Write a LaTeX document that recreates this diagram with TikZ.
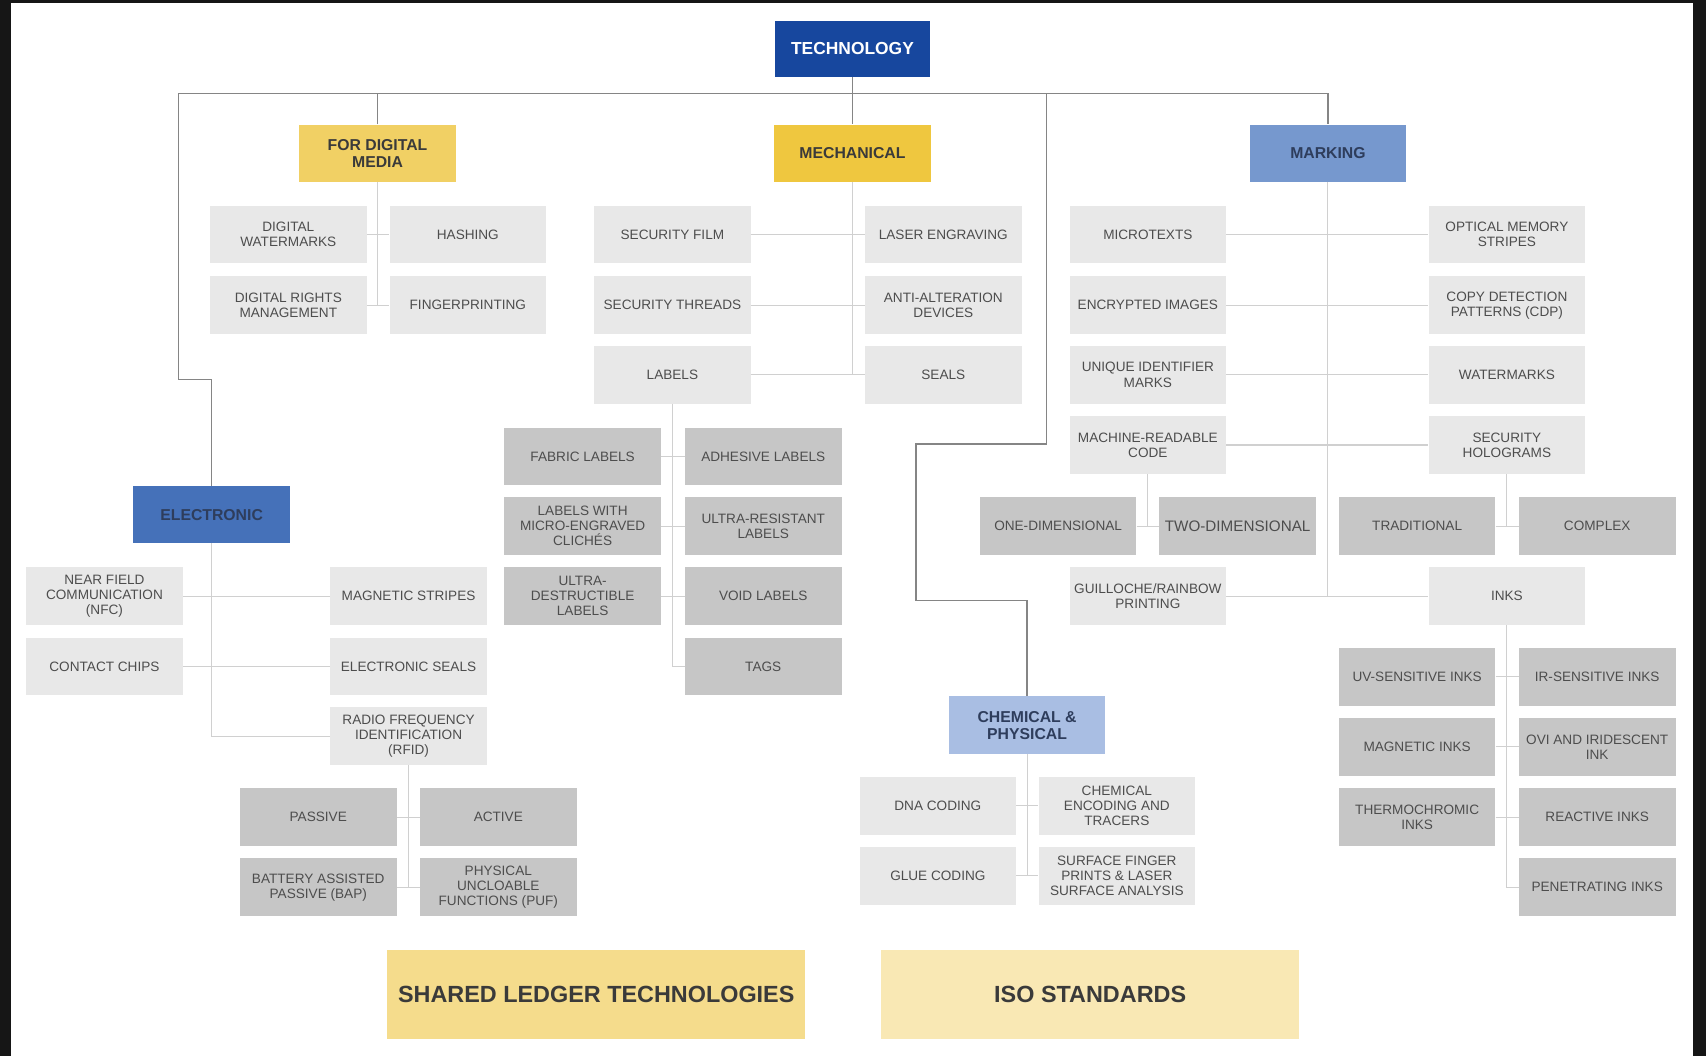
\documentclass[tikz,border=0pt]{standalone}
\usepackage{fontspec}
\setmainfont{Liberation Sans}
\definecolor{cFrame}{HTML}{161616}
\definecolor{cTech}{HTML}{17479E}
\definecolor{cYel}{HTML}{F1D064}
\definecolor{cYelB}{HTML}{EFC73F}
\definecolor{cMark}{HTML}{7698CE}
\definecolor{cElec}{HTML}{4571B9}
\definecolor{cChem}{HTML}{A9BEE3}
\definecolor{cLight}{HTML}{E8E8E8}
\definecolor{cDark}{HTML}{C6C6C6}
\definecolor{cShared}{HTML}{F5DC8C}
\definecolor{cIso}{HTML}{F9E8B4}
\definecolor{cTxt}{HTML}{4D4D4D}
\definecolor{cHead}{HTML}{3A3A3A}
\definecolor{cBlueTxt}{HTML}{2E3D5C}
\definecolor{cMainLine}{HTML}{858585}
\definecolor{cSubLine}{HTML}{D0D0D0}
\tikzset{
  gbox/.style={rectangle, inner sep=0pt, align=center, minimum width=144pt, minimum height=53pt,
    text=cTxt, font=\fontsize{12.5}{13.8}\selectfont},
  lbox/.style={gbox, fill=cLight},
  dbox/.style={gbox, fill=cDark},
  hbox/.style={gbox, text=cHead, font=\bfseries\fontsize{14.5}{15.5}\selectfont},
  bigbox/.style={rectangle, inner sep=0pt, minimum width=384pt, minimum height=82pt,
    text=cHead, font=\bfseries\fontsize{21.5}{23}\selectfont},
  mline/.style={draw=cMainLine, line width=1.4pt},
  sline/.style={draw=cSubLine, line width=1pt},
}
\begin{document}
\begin{tikzpicture}[x=1pt,y=-1pt]
\useasboundingbox (0,0) rectangle (1568,971);
\fill[cFrame] (0,0) rectangle (1568,971);
\fill[white] (10.5,3) rectangle (1556,971);

% category nodes
\node[hbox, fill=cTech, text=white, minimum width=143pt, minimum height=52pt,
      font=\bfseries\fontsize{16}{17}\selectfont] (tech) at (783.5,45) {TECHNOLOGY};
\node[hbox, fill=cYel] (dig) at (347,141) {FOR DIGITAL\\MEDIA};
\node[hbox, fill=cYelB] (mech) at (783.5,141) {MECHANICAL};
\node[hbox, fill=cMark, text=cBlueTxt] (mark) at (1220.5,141) {MARKING};
\node[hbox, fill=cElec, text=cBlueTxt, minimum height=52pt] (elec) at (194.5,473) {ELECTRONIC};
\node[hbox, fill=cChem, text=cBlueTxt] (chem) at (944,666.5) {CHEMICAL \&\\PHYSICAL};

% digital media
\node[lbox] (dw) at (265,215.5) {DIGITAL\\WATERMARKS};
\node[lbox] (hash) at (430,215.5) {HASHING};
\node[lbox] (drm) at (265,280.5) {DIGITAL RIGHTS\\MANAGEMENT};
\node[lbox] (fp) at (430,280.5) {FINGERPRINTING};

% mechanical
\node[lbox] (sf) at (618,215.5) {SECURITY FILM};
\node[lbox] (le) at (867,215.5) {LASER ENGRAVING};
\node[lbox] (st) at (618,280.5) {SECURITY THREADS};
\node[lbox] (aa) at (867,280.5) {ANTI-ALTERATION\\DEVICES};
\node[lbox] (lab) at (618,344.5) {LABELS};
\node[lbox] (seals) at (867,344.5) {SEALS};

% labels
\node[dbox] (fab) at (535.5,419.5) {FABRIC LABELS};
\node[dbox] (adh) at (701.5,419.5) {ADHESIVE LABELS};
\node[dbox] (mic) at (535.5,483.5) {LABELS WITH\\MICRO-ENGRAVED\\CLICHÉS};
\node[dbox] (ures) at (701.5,483.5) {ULTRA-RESISTANT\\LABELS};
\node[dbox] (udes) at (535.5,548) {ULTRA-\\DESTRUCTIBLE\\LABELS};
\node[dbox] (void) at (701.5,548) {VOID LABELS};
\node[dbox] (tags) at (701.5,612.5) {TAGS};

% marking
\node[lbox] (micro) at (1055,215.5) {MICROTEXTS};
\node[lbox] (oms) at (1385,215.5) {OPTICAL MEMORY\\STRIPES};
\node[lbox] (enc) at (1055,280.5) {ENCRYPTED IMAGES};
\node[lbox] (cdp) at (1385,280.5) {COPY DETECTION\\PATTERNS (CDP)};
\node[lbox] (uim) at (1055,344.5) {UNIQUE IDENTIFIER\\MARKS};
\node[lbox] (wm) at (1385,344.5) {WATERMARKS};
\node[lbox] (mrc) at (1055,409) {MACHINE-READABLE\\CODE};
\node[lbox] (holo) at (1385,409) {SECURITY\\HOLOGRAMS};
\node[lbox] (guil) at (1055,548) {GUILLOCHE/RAINBOW\\PRINTING};
\node[lbox] (inks) at (1385,548) {INKS};

\node[dbox] (one) at (972.5,483.5) {ONE-DIMENSIONAL};
\node[dbox, font=\fontsize{14}{15}\selectfont] (two) at (1137.5,483.5) {TWO-DIMENSIONAL};
\node[dbox] (trad) at (1302.5,483.5) {TRADITIONAL};
\node[dbox] (cplx) at (1468,483.5) {COMPLEX};

\node[dbox] (uv) at (1302.5,622) {UV-SENSITIVE INKS};
\node[dbox] (ir) at (1468,622) {IR-SENSITIVE INKS};
\node[dbox] (magi) at (1302.5,686.5) {MAGNETIC INKS};
\node[dbox] (ovi) at (1468,686.5) {OVI AND IRIDESCENT\\INK};
\node[dbox] (thermo) at (1302.5,751) {THERMOCHROMIC\\INKS};
\node[dbox] (react) at (1468,751) {REACTIVE INKS};
\node[dbox] (pen) at (1468,815.5) {PENETRATING INKS};

% electronic
\node[lbox] (nfc) at (96,548) {NEAR FIELD\\COMMUNICATION\\(NFC)};
\node[lbox] (ms) at (375.5,548) {MAGNETIC STRIPES};
\node[lbox] (cc) at (96,612.5) {CONTACT CHIPS};
\node[lbox] (es) at (375.5,612.5) {ELECTRONIC SEALS};
\node[lbox] (rfid) at (375.5,676.5) {RADIO FREQUENCY\\IDENTIFICATION\\(RFID)};

\node[dbox] (pas) at (292.5,751) {PASSIVE};
\node[dbox] (act) at (458,751) {ACTIVE};
\node[dbox] (bap) at (292.5,815.5) {BATTERY ASSISTED\\PASSIVE (BAP)};
\node[dbox] (puf) at (458,815.5) {PHYSICAL\\UNCLOABLE\\FUNCTIONS (PUF)};

% chemical
\node[lbox] (dna) at (862,740.5) {DNA CODING};
\node[lbox] (cet) at (1026.5,740.5) {CHEMICAL\\ENCODING AND\\TRACERS};
\node[lbox] (glue) at (862,805) {GLUE CODING};
\node[lbox] (surf) at (1026.5,805) {SURFACE FINGER\\PRINTS \& LASER\\SURFACE ANALYSIS};

% bottom
\node[bigbox, fill=cShared] (shared) at (548,914) {SHARED LEDGER TECHNOLOGIES};
\node[bigbox, fill=cIso] (iso) at (1002,914) {ISO STANDARDS};

% main tree
\coordinate (eA) at (164,86);
\coordinate (eB) at (164,349);
\coordinate (cA) at (962,86);
\coordinate (cB) at (962,408);
\coordinate (cC) at (842,408);
\coordinate (cD) at (842,552);
\draw[mline] (eB) -- (eA) -- (mark.north |- eA) -- (mark.north);
\draw[mline] (eB) -| (elec.north);
\draw[mline] (dig.north) -- (dig.north |- eA);
\draw[mline] (tech.south) -- (mech.north);
\draw[mline] (cA) -- (cB) -- (cC) -- (cD) -| (chem.north);

% digital
\draw[sline] (dig.south) -- (dig.south |- fp.west);
\draw[sline] (dw.east) -- (hash.west);
\draw[sline] (drm.east) -- (fp.west);
% mechanical
\draw[sline] (mech.south) -- (mech.south |- seals.west);
\draw[sline] (sf.east) -- (le.west);
\draw[sline] (st.east) -- (aa.west);
\draw[sline] (lab.east) -- (seals.west);
% labels
\draw[sline] (lab.south) -- (lab.south |- tags.west) -- (tags.west);
\draw[sline] (fab.east) -- (adh.west);
\draw[sline] (mic.east) -- (ures.west);
\draw[sline] (udes.east) -- (void.west);
% marking
\draw[sline] (mark.south) -- (mark.south |- inks.west);
\draw[sline] (micro.east) -- (oms.west);
\draw[sline] (enc.east) -- (cdp.west);
\draw[sline] (uim.east) -- (wm.west);
\draw[sline] (mrc.east) -- (holo.west);
\draw[sline] (guil.east) -- (inks.west);
\draw[sline] (mrc.south) -- (mrc.south |- one.east);
\draw[sline] (one.east) -- (two.west);
\draw[sline] (holo.south) -- (holo.south |- trad.east);
\draw[sline] (trad.east) -- (cplx.west);
\draw[sline] (inks.south) -- (inks.south |- pen.west) -- (pen.west);
\draw[sline] (uv.east) -- (ir.west);
\draw[sline] (magi.east) -- (ovi.west);
\draw[sline] (thermo.east) -- (react.west);
% electronic
\draw[sline] (elec.south) -- (elec.south |- rfid.west) -- (rfid.west);
\draw[sline] (nfc.east) -- (ms.west);
\draw[sline] (cc.east) -- (es.west);
\draw[sline] (rfid.south) -- (rfid.south |- puf.west);
\draw[sline] (pas.east) -- (act.west);
\draw[sline] (bap.east) -- (puf.west);
% chemical
\draw[sline] (chem.south) -- (chem.south |- surf.west);
\draw[sline] (dna.east) -- (cet.west);
\draw[sline] (glue.east) -- (surf.west);
\end{tikzpicture}
\end{document}
